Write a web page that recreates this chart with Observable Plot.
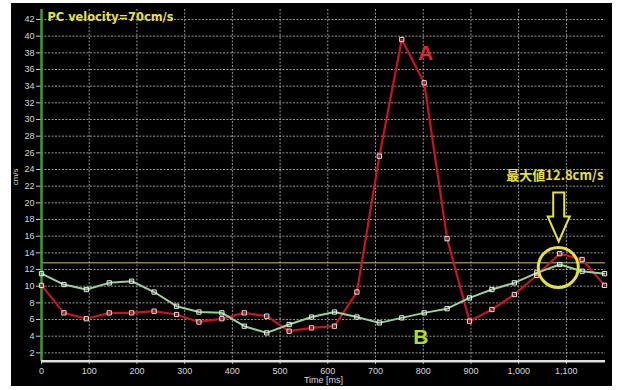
<!DOCTYPE html>
<html>
<head>
<meta charset="utf-8">
<script src="https://cdn.jsdelivr.net/npm/d3@7"></script>
<script src="https://cdn.jsdelivr.net/npm/@observablehq/plot@0.6"></script>
<style>
  html, body { margin: 0; padding: 0; background: #fff; }
  #wrap { position: absolute; left: 11px; top: 3px; width: 601px; height: 383px; background: #000; }
  #wrap svg { display: block; }
</style>
</head>
<body>
<div id="wrap"></div>
<script>
// ---- data ----
const timesMs = [0, 47, 94, 142, 189, 236, 283, 330, 378, 425, 472, 519, 566, 614, 661, 708, 755, 802, 850, 897, 944, 991, 1038, 1086, 1133, 1180];
const seriesA = [10.1, 6.8, 6.1, 6.8, 6.8, 7.0, 6.6, 5.7, 6.1, 6.8, 6.4, 4.6, 5.0, 5.2, 9.3, 25.6, 39.6, 34.4, 15.7, 5.8, 7.2, 9.0, 11.3, 13.9, 13.2, 10.1];
const seriesB = [11.5, 10.2, 9.6, 10.4, 10.6, 9.3, 7.6, 6.9, 6.8, 5.2, 4.4, 5.4, 6.3, 6.9, 6.3, 5.6, 6.2, 6.8, 7.3, 8.6, 9.6, 10.4, 11.6, 12.6, 11.8, 11.5];
const xTicks = [0, 100, 200, 300, 400, 500, 600, 700, 800, 900, 1000, 1100];
const yTicks = [2, 4, 6, 8, 10, 12, 14, 16, 18, 20, 22, 24, 26, 28, 30, 32, 34, 36, 38, 40, 42];
const maxValue = 12.8;
const titleText = "PC velocity=70cm/s";
const maxText = "最大値12.8cm/s";
const yLabel = "cm/s";
const xLabel = "Time [ms]";
// annotation anchors (in data units)
const labelA = {text: "A", t: 805, v: 38.0};
const labelB = {text: "B", t: 795, v: 3.9};
const maxTextPos = {t: 1076, v: 23.3};
const circlePos = {t: 1083, v: 12.25};
const arrowTip = {t: 1085, v: 15.3};

const rowsA = timesMs.map((t, i) => ({t, v: seriesA[i]}));
const rowsB = timesMs.map((t, i) => ({t, v: seriesB[i]}));

const YELLOW = "#e6e23a";

function arrowMark(...args) {
  const scales = args.find(a => a && typeof a.x === "function" && typeof a.y === "function");
  const x = scales.x(arrowTip.t), y = scales.y(arrowTip.v);
  const g = d3.create("svg:g");
  g.append("path")
    .attr("d", "M-5.5,-49L5.5,-49L5.5,-25L11,-25L0,0L-11,-25L-5.5,-25Z")
    .attr("transform", `translate(${x},${y})`)
    .attr("fill", "#000")
    .attr("stroke", YELLOW)
    .attr("stroke-width", 2)
    .attr("stroke-linejoin", "miter");
  return g.node();
}

const chart = Plot.plot({
  width: 601,
  height: 383,
  marginLeft: 30,
  marginRight: 7,
  marginTop: 6,
  marginBottom: 25.3,
  style: {background: "#000", color: "#d8d8d8", fontFamily: "'Liberation Sans', Arial, sans-serif", fontSize: "9px"},
  x: {domain: [0, 1182]},
  y: {domain: [1, 43.2]},
  marks: [
    Plot.gridX(xTicks, {stroke: "#c8c8c8", strokeOpacity: 0.75, strokeDasharray: "2,1.5"}),
    Plot.gridY(yTicks, {stroke: "#c8c8c8", strokeOpacity: 0.75, strokeDasharray: "2,1.5"}),
    Plot.axisX({ticks: xTicks, tickFormat: d3.format(",d"), tickSize: 3, tickPadding: 3, label: null, stroke: "#ddd", fill: "#d8d8d8"}),
    Plot.axisY({ticks: yTicks, tickFormat: d3.format("d"), tickSize: 5, tickPadding: 2, label: null, stroke: "#ccc", fill: "#d8d8d8"}),
    Plot.text([xLabel], {frameAnchor: "bottom", dy: 22, fill: "#d8d8d8", fontSize: 9}),
    Plot.text([yLabel], {frameAnchor: "left", dx: -26, rotate: -90, fill: "#d8d8d8", fontSize: 8}),
    Plot.ruleY([maxValue], {stroke: "#c9c66a", strokeWidth: 1}),
    Plot.ruleX([0], {y1: 1, y2: 43.2, stroke: "#3e9a3e", strokeWidth: 2.5}),
    Plot.ruleY([1], {stroke: "#e0e0e0", strokeWidth: 2.5}),
    Plot.line(rowsA, {x: "t", y: "v", stroke: "#c8141e", strokeWidth: 2.2}),
    Plot.line(rowsB, {x: "t", y: "v", stroke: "#96d496", strokeWidth: 2}),
    Plot.dot(rowsA, {x: "t", y: "v", symbol: "square", r: 2.4, fill: "none", stroke: "#f0e6e6", strokeWidth: 1}),
    Plot.dot(rowsB, {x: "t", y: "v", symbol: "square", r: 2.4, fill: "none", stroke: "#f0f0f0", strokeWidth: 1}),
    Plot.dot([circlePos], {x: "t", y: "v", r: 20, fill: "none", stroke: YELLOW, strokeWidth: 3}),
    arrowMark,
    Plot.text([maxText], {x: () => maxTextPos.t, y: () => maxTextPos.v, fill: YELLOW, fontSize: 13, fontWeight: "bold", fontFamily: "'Noto Sans CJK JP', sans-serif"}),
    Plot.text([titleText], {frameAnchor: "top-left", dx: 6, dy: 3, lineAnchor: "top", fill: YELLOW, fontSize: 11.4, fontWeight: "bold", fontFamily: "'DejaVu Sans', Verdana, sans-serif"}),
    Plot.text([labelA], {x: "t", y: "v", text: "text", fill: "#dc2832", fontSize: 21, fontWeight: "bold", fontFamily: "'Liberation Sans', Arial, sans-serif"}),
    Plot.text([labelB], {x: "t", y: "v", text: "text", fill: "#b4dc28", fontSize: 21, fontWeight: "bold", fontFamily: "'Liberation Sans', Arial, sans-serif"})
  ]
});
document.getElementById("wrap").appendChild(chart);
</script>
</body>
</html>
